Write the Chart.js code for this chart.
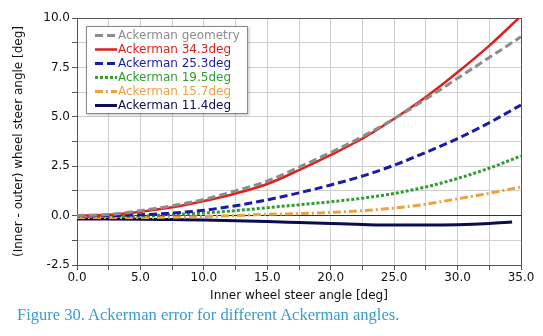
<!DOCTYPE html>
<html>
<head>
<meta charset="utf-8">
<script src="https://cdn.jsdelivr.net/npm/chart.js@4/dist/chart.umd.min.js"></script>
<style>
  body { margin: 0; background: #fff; }
  #wrap { position: relative; width: 543px; height: 336px; }
  #caption {
    position: absolute; left: 17px; top: 305px;
    font: 16.5px "Liberation Serif", serif; line-height: 20px;
    color: #3a9cc8; white-space: nowrap;
  }
</style>
</head>
<body>
<div id="wrap">
  <canvas id="chart" width="543" height="336"></canvas>
  <div id="caption">Figure 30. Ackerman error for different Ackerman angles.</div>
</div>
<script>
// inner wheel steer angle [deg]
var angles = [0, 2.5, 5, 7.5, 10, 12.5, 15, 17.5, 20, 22.5, 25, 27.5, 30, 32.5, 35];
var navyAngles = [0, 2.5, 5, 7.5, 10, 12.5, 15, 17.5, 20, 22.5, 25, 27.5, 30, 32.5, 34.3];

// (inner - outer) steer angle [deg]
var geometry = [0, 0.06, 0.25, 0.5, 0.82, 1.25, 1.75, 2.45, 3.2, 4.0, 4.9, 5.9, 6.95, 8.0, 9.05];
var ack343 = [0, 0.04, 0.2, 0.42, 0.74, 1.12, 1.6, 2.3, 3.07, 3.9, 4.9, 6.0, 7.25, 8.6, 10.1];
var ack253 = [0, 0, 0.04, 0.13, 0.27, 0.5, 0.8, 1.15, 1.55, 2.0, 2.55, 3.2, 3.9, 4.7, 5.6];
var ack195 = [-0.05, -0.05, -0.02, 0.05, 0.13, 0.25, 0.4, 0.55, 0.7, 0.88, 1.12, 1.45, 1.88, 2.4, 3.02];
var ack157 = [-0.1, -0.1, -0.1, -0.08, -0.05, 0, 0.07, 0.1, 0.16, 0.25, 0.38, 0.58, 0.85, 1.13, 1.45];
var ack114 = [-0.17, -0.17, -0.18, -0.2, -0.22, -0.26, -0.3, -0.35, -0.4, -0.45, -0.48, -0.48, -0.46, -0.4, -0.33];

var labels = ["Ackerman geometry", "Ackerman 34.3deg", "Ackerman 25.3deg",
              "Ackerman 19.5deg", "Ackerman 15.7deg", "Ackerman 11.4deg"];

function pts(xs, ys) {
    return xs.map(function(x, i) { return {x: x, y: ys[i]}; });
}

function series(label, xs, ys, color, dash, width) {
    return {
        label: label,
        data: pts(xs, ys),
        borderColor: color,
        borderDash: dash,
        borderWidth: width,
        pointRadius: 0,
        fill: false,
        cubicInterpolationMode: "monotone"
    };
}

function isMultiple(v, step) {
    return Math.abs(v / step - Math.round(v / step)) < 1e-6;
}

// legend box drawn inside the plot area
var legendBox = {
    id: "legendBox",
    afterDraw: function(chart) {
        var ctx = chart.ctx;
        ctx.save();
        ctx.shadowColor = "rgba(0,0,0,0.25)";
        ctx.shadowBlur = 3;
        ctx.shadowOffsetX = 1;
        ctx.shadowOffsetY = 1;
        ctx.fillStyle = "#fff";
        ctx.fillRect(86, 26, 162, 88);
        ctx.shadowColor = "transparent";
        ctx.strokeStyle = "#8a8a8a";
        ctx.lineWidth = 1;
        ctx.strokeRect(86.5, 26.5, 161, 87);
        ctx.font = "12px 'DejaVu Sans'";
        ctx.textBaseline = "middle";
        chart.data.datasets.forEach(function(ds, i) {
            var y = 35.5 + i * 14;
            ctx.strokeStyle = ds.borderColor;
            ctx.lineWidth = ds.borderWidth;
            ctx.setLineDash(ds.borderDash);
            ctx.beginPath();
            ctx.moveTo(95, y);
            ctx.lineTo(117, y);
            ctx.stroke();
            ctx.setLineDash([]);
            ctx.fillStyle = ds.borderColor;
            ctx.fillText(ds.label, 118, y);
        });
        ctx.restore();
    }
};

// frame on top and right of the plot
var frame = {
    id: "frame",
    beforeDatasetsDraw: function(chart) {
        var a = chart.chartArea, ctx = chart.ctx;
        ctx.save();
        ctx.strokeStyle = "#555";
        ctx.lineWidth = 1;
        ctx.strokeRect(Math.round(a.left) + 0.5, Math.round(a.top) + 0.5,
                       Math.round(a.right - a.left), Math.round(a.bottom - a.top));
        ctx.restore();
    }
};

new Chart(document.getElementById("chart"), {
    type: "line",
    data: {
        datasets: [
            series(labels[0], angles, geometry, "#8c8c8c", [8, 4], 3),
            series(labels[1], angles, ack343, "#e0201c", [], 2.5),
            series(labels[2], angles, ack253, "#1a1aa8", [8, 4], 3),
            series(labels[3], angles, ack195, "#2e9e2e", [3, 2], 3),
            series(labels[4], angles, ack157, "#f0a040", [8, 3, 2, 3], 3),
            series(labels[5], navyAngles, ack114, "#0c0c52", [], 3)
        ]
    },
    options: {
        responsive: false,
        animation: false,
        layout: { padding: { left: 0, top: 18, right: 22, bottom: 29 } },
        plugins: {
            legend: { display: false },
            tooltip: { enabled: false }
        },
        scales: {
            x: {
                type: "linear",
                min: 0,
                max: 35,
                afterFit: function(scale) { scale.height = 42; },
                ticks: {
                    stepSize: 2.5,
                    autoSkip: false,
                    maxRotation: 0,
                    padding: 1,
                    color: "#111",
                    font: { family: "DejaVu Sans", size: 12 },
                    callback: function(v) { return isMultiple(v, 5) ? v.toFixed(1) : ""; }
                },
                grid: { color: "#cfcfcf", tickColor: "#555", tickLength: 5 },
                border: { color: "#555" },
                title: {
                    display: true,
                    text: "Inner wheel steer angle [deg]",
                    color: "#111",
                    font: { family: "DejaVu Sans", size: 12 },
                    padding: { top: 0, bottom: 4 }
                }
            },
            y: {
                min: -2.5,
                max: 10,
                afterFit: function(scale) { scale.width = 77; },
                ticks: {
                    stepSize: 1.25,
                    autoSkip: false,
                    padding: 2,
                    color: "#111",
                    font: { family: "DejaVu Sans", size: 12 },
                    callback: function(v) { return isMultiple(v, 2.5) ? v.toFixed(1) : ""; }
                },
                grid: {
                    color: function(c) { return c.tick && c.tick.value === 0 ? "#333" : "#cfcfcf"; },
                    tickColor: "#555",
                    tickLength: 5
                },
                border: { color: "#555" },
                title: {
                    display: true,
                    text: "(Inner - outer) wheel steer angle [deg]",
                    color: "#111",
                    font: { family: "DejaVu Sans", size: 12 },
                    padding: { top: 12, bottom: 0 }
                }
            }
        }
    },
    plugins: [frame, legendBox]
});
</script>
</body>
</html>
